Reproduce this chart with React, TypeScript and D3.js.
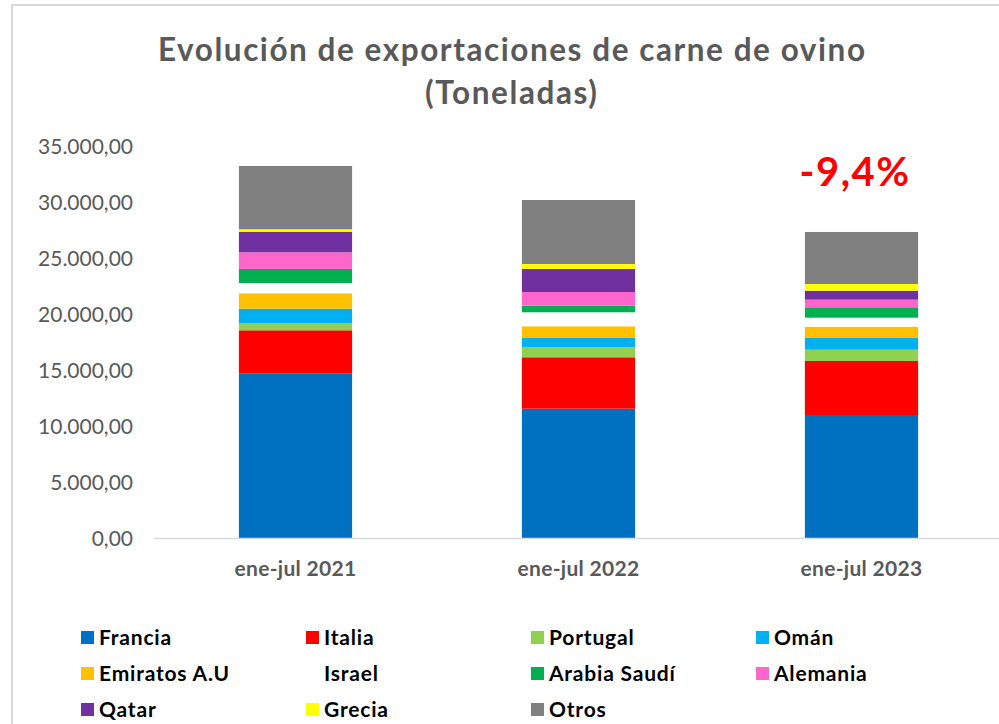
import React from "react";
import * as d3 from "d3";

const categories = ["ene-jul 2021", "ene-jul 2022", "ene-jul 2023"];
const seriesNames = ["Francia", "Italia", "Portugal", "Omán", "Emiratos A.U", "Israel", "Arabia Saudí", "Alemania", "Qatar", "Grecia", "Otros"];
const seriesColors = ["#0070C0", "#FF0000", "#92D050", "#00B0F0", "#FFC000", "#FFFFFF", "#00B050", "#FF66CC", "#7030A0", "#FFFF00", "#808080"];
const francia = [14670, 11545, 10982];
const italia = [3875, 4590, 4821];
const portugal = [652, 893, 1009];
const oman = [1277, 830, 1045];
const emiratos = [1375, 1045, 1009];
const israel = [920, 1250, 804];
const arabia = [1250, 589, 929];
const alemania = [1491, 1223, 679];
const qatar = [1839, 2054, 804];
const grecia = [214, 446, 598];
const otros = [5652, 5714, 4643];
const yTicks = [0, 5000, 10000, 15000, 20000, 25000, 30000, 35000];
const titleLines = ["Evolución de exportaciones de carne de ovino", "(Toneladas)"];
const changeLabel = "-9,4%";

const seriesValues = [francia, italia, portugal, oman, emiratos, israel, arabia, alemania, qatar, grecia, otros];

const FONT = "Lato, 'Open Sans', sans-serif";

export default function App() {
  const table = categories.map((c, i) => {
    const row: any = { cat: c };
    seriesNames.forEach((s, k) => (row[s] = seriesValues[k][i]));
    return row;
  });
  const stacked = d3.stack().keys(seriesNames)(table);

  const x = d3.scaleBand().domain(categories).range([154, 1003]).paddingInner(0.6).paddingOuter(0.3);
  const y = d3.scaleLinear().domain([0, 35000]).range([538, 146]);
  const fmt = (v: number) => {
    const s = d3.format(",.2f")(v);
    return s.replace(/,/g, "#").replace(/\./g, ",").replace(/#/g, ".");
  };

  const legendCols = [81, 306, 531, 756];
  const legendRows = [637.5, 673.5, 709.5];
  const titleLengths = [707, 172];
  const titleX = [158, 425];

  return (
    <svg width={999} height={724} style={{ position: "absolute", left: 0, top: 0, background: "#fff" }} fontFamily={FONT}>
      <rect x={12} y={5} width={1010} height={760} fill="#fff" stroke="#d9d9d9" strokeWidth={2} />
      {titleLines.map((t, i) => (
        <text key={i} x={titleX[i]} y={61 + i * 43} textLength={titleLengths[i]} lengthAdjust="spacing" fontSize={31.5} fontWeight={700} fill="#595959">{t}</text>
      ))}
      {yTicks.map((t) => (
        <text key={t} x={133} y={y(t)} dy="0.36em" textAnchor="end" fontSize={21} fill="#595959">{fmt(t)}</text>
      ))}
      {stacked.map((layer, k) => (
        <g key={layer.key} fill={seriesColors[k]}>
          {layer.map((d, i) => (
            <rect key={i} x={x(categories[i])} width={x.bandwidth()} y={y(d[1])} height={y(d[0]) - y(d[1])} />
          ))}
        </g>
      ))}
      <line x1={154} x2={1003} y1={538.5} y2={538.5} stroke="#d9d9d9" strokeWidth={1.5} />
      {categories.map((c) => (
        <text key={c} x={(x(c) as number) + x.bandwidth() / 2} y={576} textAnchor="middle" fontSize={21} letterSpacing={0.3} fontWeight={700} fill="#595959">{c}</text>
      ))}
      <text x={855} y={186} textAnchor="middle" fontSize={40} letterSpacing={1.5} fontWeight={700} fill="#FF0000">{changeLabel}</text>
      {seriesNames.map((s, k) => {
        const col = k % 4;
        const row = Math.floor(k / 4);
        const lx = legendCols[col];
        const ly = legendRows[row];
        return (
          <g key={s}>
            {seriesColors[k] !== "#FFFFFF" && <rect x={lx} y={ly - 6.5} width={13} height={13} fill={seriesColors[k]} />}
            <text x={lx + 18} y={ly} dy="0.36em" fontSize={21} letterSpacing={0.8} fontWeight={700} fill="#000">{s}</text>
          </g>
        );
      })}
    </svg>
  );
}
